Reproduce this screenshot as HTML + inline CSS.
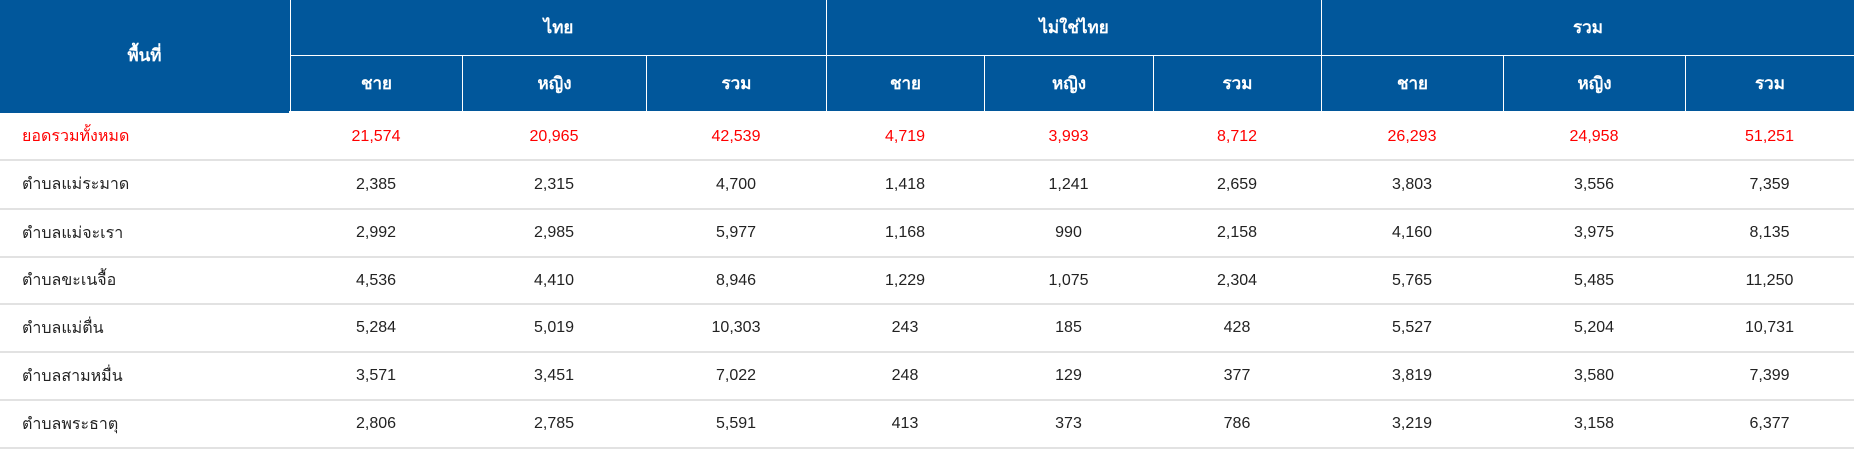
<!DOCTYPE html>
<html><head><meta charset="utf-8"><style>
*{margin:0;padding:0;box-sizing:border-box}
body{width:1854px;height:449px;background:#fff;overflow:hidden;font-family:"Liberation Sans","DejaVu Sans",sans-serif;position:relative}
.c{position:absolute;display:flex;align-items:center;justify-content:center;font-size:16px;color:#222}
.h{background:#01579b;color:#fff;font-weight:bold;font-size:17px}
.l{justify-content:flex-start;padding-left:22px}
.r{color:#f00}
.line{position:absolute;left:0;width:1854px;height:2px;background:#e2e2e2}
</style></head><body>
<div id="t"></div>
<script>
var X=[0,290,462,646,826,984,1153,1321,1503,1685,1854];
var H='';
function cell(x1,x2,y1,y2,txt,cls){H+='<div class="c '+cls+'" style="left:'+x1+'px;top:'+y1+'px;width:'+(x2-x1)+'px;height:'+(y2-y1)+'px">'+txt+'</div>';}
H+='<div style="position:absolute;left:0;top:0;width:1854px;height:111px;background:#01579b"></div>';
cell(0,289,0,111,'พื้นที่','h');
H+='<div style="position:absolute;left:0;top:111px;width:289px;height:2px;background:#01579b"></div>';
var groups=['ไทย','ไม่ใช่ไทย','รวม'];
for(var g=0;g<3;g++){var a=X[1+g*3],b=X[4+g*3];cell(a+1,b,0,55,groups[g],'h');
 var sub=['ชาย','หญิง','รวม'];for(var s=0;s<3;s++)cell(X[1+g*3+s]+1,X[2+g*3+s],56,111,sub[s],'h');}
for(var i=1;i<10;i++){var tp=(i==1||i==4||i==7)?0:56;H+='<div style="position:absolute;left:'+X[i]+'px;top:'+tp+'px;width:1px;height:'+(111-tp)+'px;background:#fff"></div>';}
H+='<div style="position:absolute;left:290px;top:55px;width:1564px;height:1px;background:#fff"></div>';
var rows=[
['ยอดรวมทั้งหมด','21,574','20,965','42,539','4,719','3,993','8,712','26,293','24,958','51,251'],
['ตำบลแม่ระมาด','2,385','2,315','4,700','1,418','1,241','2,659','3,803','3,556','7,359'],
['ตำบลแม่จะเรา','2,992','2,985','5,977','1,168','990','2,158','4,160','3,975','8,135'],
['ตำบลขะเนจื้อ','4,536','4,410','8,946','1,229','1,075','2,304','5,765','5,485','11,250'],
['ตำบลแม่ตื่น','5,284','5,019','10,303','243','185','428','5,527','5,204','10,731'],
['ตำบลสามหมื่น','3,571','3,451','7,022','248','129','377','3,819','3,580','7,399'],
['ตำบลพระธาตุ','2,806','2,785','5,591','413','373','786','3,219','3,158','6,377']];
var Y=[113,160,209,257,304,352,400,448];
for(var r=0;r<7;r++){for(var c=0;c<10;c++)cell(X[c],X[c+1],Y[r],Y[r+1],rows[r][c],(c==0?'l ':'')+(r==0?'r':''));
 H+='<div class="line" style="top:'+(Y[r+1]-1)+'px"></div>';}
document.getElementById('t').innerHTML=H;
</script>
</body></html>
